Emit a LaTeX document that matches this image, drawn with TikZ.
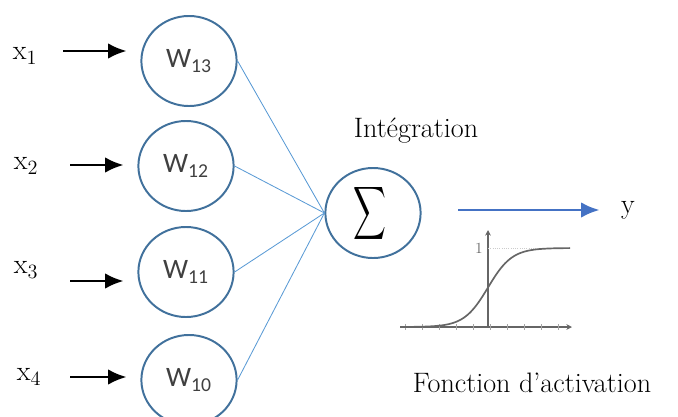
\documentclass[tikz,border=0pt]{standalone}
\usepackage{fontspec}
\usepackage{graphicx}
\newfontfamily\calibri{Carlito}
\usetikzlibrary{arrows.meta,shapes.geometric}
\definecolor{bordNeur}{HTML}{41719C}
\definecolor{lienBleu}{HTML}{5B9BD5}
\definecolor{sortieBleu}{HTML}{4472C4}
\definecolor{grisTxt}{HTML}{404040}

\begin{document}
\begin{tikzpicture}[
	x=0.025cm, y=-0.025cm,
	>={Latex[length=13pt,width=11pt]},
	neurone/.style={ellipse, draw=bordNeur, line width=1.4pt,
		minimum width=2.38cm, minimum height=2.25cm, inner sep=0pt,
		font=\calibri\fontsize{20}{24}\selectfont, text=grisTxt},
	entree/.style={->, line width=1.5pt, black, shorten >=0.35cm},
	lien/.style={lienBleu, line width=0.6pt},
	sortie/.style={->, sortieBleu, line width=1.9pt, shorten >=0.5cm},
	etiq/.style={font=\fontsize{20}{24}\selectfont, inner sep=1pt},
	axe/.style={gray!80!black, line width=0.9pt, -{Stealth[length=4pt,width=4pt]}},
	courbe/.style={gray!80!black, line width=1.2pt}]
	
	\useasboundingbox (0,0) rectangle (678,416);
	
	%% --- neurones d'entree (poids) ---
	\node[neurone] (w13) at (189,61)  {W\textsubscript{13}};
	\node[neurone] (w12) at (186,166) {W\textsubscript{12}};
	\node[neurone] (w11) at (186,272) {W\textsubscript{11}};
	\node[neurone] (w10) at (189,380) {W\textsubscript{10}};
	
	%% --- entrees x_i ---
	\node[etiq] (x1) at (25,56)  {$\mathrm{x}_1$};
	\node[etiq] (x2) at (26,166) {$\mathrm{x}_2$};
	\node[etiq] (x3) at (26,270) {$\mathrm{x}_3$};
	\node[etiq] (x4) at (29,377) {$\mathrm{x}_4$};
	\coordinate (d1) at (63,51);
	\coordinate (d2) at (70,165);
	\coordinate (d3) at (70,281);
	\coordinate (d4) at (70,377);
	\draw[entree] (d1) -- (d1 -| w13.west);
	\draw[entree] (d2) -- (d2 -| w12.west);
	\draw[entree] (d3) -- (d3 -| w11.west);
	\draw[entree] (d4) -- (d4 -| w10.west);
	
	%% --- integration ---
	\node[neurone, font=\normalsize, text=black] (som) at (373,213)
		{\hspace*{-4pt}\scalebox{1.62}[2.64]{$\displaystyle\sum$}};
	\node[etiq] (integ) at (416,131) {Intégration};
	\foreach \w in {w13,w12,w11,w10}
		\draw[lien] (\w.east) -- (som.west);
	
	%% --- sortie y ---
	\node[etiq] (y) at (628,210) {y};
	\coordinate (s0) at (458,210);
	\draw[sortie] (s0) -- (s0 -| y.west);
	
	%% --- fonction d'activation (sigmoide) ---
	\draw[axe] (400,327) -- (572,327);
	\draw[axe] (488,327) -- (488,230);
	\foreach \t in {405,422,...,570}
		\draw[gray!70, line width=0.6pt] (\t,324) -- (\t,330);
	\draw[gray!40, densely dotted, line width=0.6pt] (488,248) -- (570,248);
	\node[gray!80!black, font=\fontsize{11}{12}\selectfont, inner sep=0pt] (un) at (479,248) {1};
	\draw[courbe] plot[domain=405:570, samples=80] (\x, {327-79/(1+exp(-(\x-488)/12))});
	\node[etiq] (activ) at (532,383) {Fonction d’activation};
	
\end{tikzpicture}
\end{document}
